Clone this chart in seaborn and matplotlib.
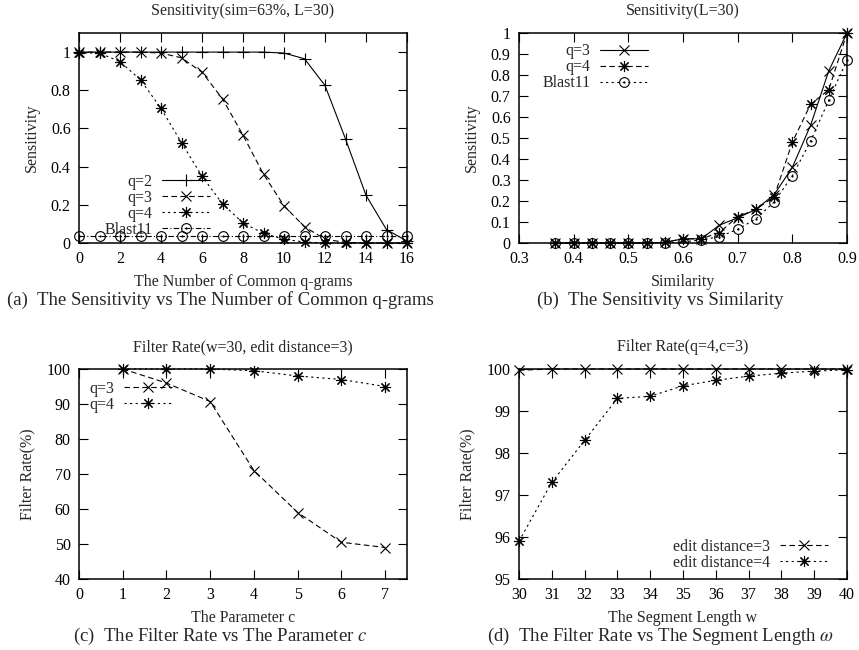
import matplotlib
matplotlib.use("Agg")
import matplotlib.pyplot as plt
import seaborn as sns
from matplotlib.legend_handler import HandlerTuple

# (a) sensitivity vs number of common q-grams
grams = list(range(17))
sens_q2 = [1, 1, 1, 1, 1, 1, 1, 1, 1, 1, 0.995, 0.965, 0.825, 0.545, 0.25, 0.07, 0.01]
sens_q3 = [1, 1, 1, 1, 0.995, 0.97, 0.895, 0.755, 0.565, 0.36, 0.195, 0.085, 0.02, 0.003, 0, 0, 0]
sens_q4 = [0.995, 0.995, 0.95, 0.855, 0.705, 0.525, 0.35, 0.205, 0.105, 0.05, 0.02, 0.005, 0, 0, 0, 0, 0]
sens_blast = [0.035] * 17

# (b) sensitivity vs similarity
similarity = [k / 30 for k in range(11, 28)]
simsens_q3 = [0, 0, 0, 0, 0, 0, 0.003, 0.02, 0.02, 0.085, 0.12, 0.16, 0.23, 0.36, 0.56, 0.82, 1.0]
simsens_q4 = [0, 0, 0, 0, 0, 0, 0.003, 0.02, 0.02, 0.05, 0.125, 0.16, 0.22, 0.48, 0.66, 0.73, 1.0]
simsens_blast = [0, 0, 0, 0, 0, 0, 0, 0.005, 0.015, 0.03, 0.065, 0.115, 0.195, 0.32, 0.485, 0.68, 0.87]

# (c) filter rate vs parameter c
param_c = [1, 2, 3, 4, 5, 6, 7]
rate_q3 = [100, 96, 90.7, 71, 59, 50.5, 49]
rate_q4 = [100, 100, 100, 99.5, 98, 97, 95]

# (d) filter rate vs segment length
seg_w = list(range(30, 41))
rate_ed3 = [99.97, 100, 100, 100, 100, 100, 100, 100, 100, 100, 100]
rate_ed4 = [95.9, 97.3, 98.3, 99.3, 99.35, 99.6, 99.73, 99.83, 99.9, 99.95, 99.98]

sns.set_style("ticks")
plt.rcParams['font.family'] = ['Liberation Serif', 'DejaVu Serif']
plt.rcParams['mathtext.fontset'] = 'stix'
FS = 11.5

W, H = 859, 650
fig = plt.figure(figsize=(W / 100, H / 100), dpi=100)


def make_ax(l, r, t, b):
    ax = fig.add_axes([l / W, 1 - b / H, (r - l) / W, (b - t) / H])
    ax.tick_params(direction='in', top=True, right=True, length=6.5, width=0.8,
                   labelsize=FS, pad=6, colors='k')
    for s in ax.spines.values():
        s.set_linewidth(1.1)
        s.set_color('k')
    return ax


SOLID = '-'
DASH = (0, (5, 3))
DOT = (0, (2, 3))
DASHDOT = (0, (5, 2, 1, 2))
AST = (8, 2, 0)


def series(ax, x, y, label, ls, marker, ms=7):
    sns.lineplot(x=x, y=y, ax=ax, color='k', lw=0.8, linestyle=ls, marker=marker,
                 ms=ms, label=label, clip_on=False, markerfacecolor='none',
                 mec='k', mew=0.8)
    main = ax.lines[-1]
    if marker == 'o':
        # gnuplot-like circle with a centre dot
        sns.lineplot(x=x, y=y, ax=ax, color='k', linestyle='none', marker='o',
                     ms=1.6, mec='k', mew=0, label='_nolegend_', clip_on=False)
        return (main, ax.lines[-1])
    return main


def legend(ax, handles, labels, loc, anchor):
    ax.legend(handles, labels, loc=loc, bbox_to_anchor=anchor, frameon=False,
              markerfirst=False, fontsize=FS, handlelength=3.0, handletextpad=0.6,
              labelspacing=0.0, borderpad=0, borderaxespad=0,
              handler_map={tuple: HandlerTuple(ndivide=1, pad=0)})


# (a)
ax = make_ax(79, 407, 33, 243)
h = [series(ax, grams, sens_q2, 'q=2', SOLID, '+', 8),
     series(ax, grams, sens_q3, 'q=3', DASH, 'x', 7),
     series(ax, grams, sens_q4, 'q=4', DOT, AST, 8),
     series(ax, grams, sens_blast, 'Blast11', DASHDOT, 'o', 7)]
ax.set_xlim(0, 16)
ax.set_ylim(0, 1.1)
ax.set_xticks(range(0, 17, 2))
ax.set_yticks([0, 0.2, 0.4, 0.6, 0.8, 1])
ax.set_yticklabels(['0', '0.2', '0.4', '0.6', '0.8', '1'])
ax.set_title('Sensitivity(sim=63%, L=30)', fontsize=FS, pad=13)
ax.set_xlabel('The Number of Common q-grams', fontsize=FS, labelpad=5)
ax.set_ylabel('Sensitivity', fontsize=FS, labelpad=8)
legend(ax, h, ['q=2', 'q=3', 'q=4', 'Blast11'], 'upper right', (0.40, 0.33))

# (b)
ax = make_ax(519, 847, 33, 243)
h = [series(ax, similarity, simsens_q3, 'q=3', SOLID, 'x', 7),
     series(ax, similarity, simsens_q4, 'q=4', DASH, AST, 8),
     series(ax, similarity, simsens_blast, 'Blast11', DOT, 'o', 7)]
ax.set_xlim(0.3, 0.9)
ax.set_ylim(0, 1)
ax.set_xticks([0.3, 0.4, 0.5, 0.6, 0.7, 0.8, 0.9])
ax.set_yticks([i / 10 for i in range(11)])
ax.set_yticklabels(['0'] + [f'0.{i}' for i in range(1, 10)] + ['1'])
ax.set_title('Sensitivity(L=30)', fontsize=FS, pad=13)
ax.set_xlabel('Similarity', fontsize=FS, labelpad=5)
ax.set_ylabel('Sensitivity', fontsize=FS, labelpad=8)
legend(ax, h, ['q=3', 'q=4', 'Blast11'], 'upper right', (0.393, 0.95))

# (c)
ax = make_ax(79, 407, 369, 579)
h = [series(ax, param_c, rate_q3, 'q=3', DASH, 'x', 7),
     series(ax, param_c, rate_q4, 'q=4', DOT, AST, 8)]
ax.set_xlim(0, 7.5)
ax.set_ylim(40, 100)
ax.set_xticks(range(8))
ax.set_yticks(range(40, 101, 10))
ax.set_title('Filter Rate(w=30, edit distance=3)', fontsize=FS, pad=13)
ax.set_xlabel('The Parameter c', fontsize=FS, labelpad=5)
ax.set_ylabel('Filter Rate(%)', fontsize=FS, labelpad=8)
legend(ax, h, ['q=3', 'q=4'], 'upper right', (0.284, 0.945))

# (d)
ax = make_ax(519, 847, 369, 579)
h = [series(ax, seg_w, rate_ed3, 'edit distance=3', DASH, 'x', 7),
     series(ax, seg_w, rate_ed4, 'edit distance=4', DOT, AST, 8)]
ax.set_xlim(30, 40)
ax.set_ylim(95, 100)
ax.set_xticks(range(30, 41))
ax.set_yticks(range(95, 101))
ax.set_title('Filter Rate(q=4,c=3)', fontsize=FS, pad=13)
ax.set_xlabel('The Segment Length w', fontsize=FS, labelpad=5)
ax.set_ylabel('Filter Rate(%)', fontsize=FS, labelpad=8)
legend(ax, h, ['edit distance=3', 'edit distance=4'], 'lower right', (0.942, 0.04))

# captions
CFS = 13.5
fig.text(7 / W, 1 - 300 / H, '(a)  The Sensitivity vs The Number of Common q-grams',
         fontsize=CFS, va='center')
fig.text(537 / W, 1 - 300 / H, '(b)  The Sensitivity vs Similarity',
         fontsize=CFS, va='center')
fig.text(73 / W, 1 - 636 / H, '(c)  The Filter Rate vs The Parameter $c$',
         fontsize=CFS, va='center')
fig.text(487 / W, 1 - 636 / H, r'(d)  The Filter Rate vs The Segment Length $\omega$',
         fontsize=CFS, va='center')

fig.savefig('out.png', dpi=100)
